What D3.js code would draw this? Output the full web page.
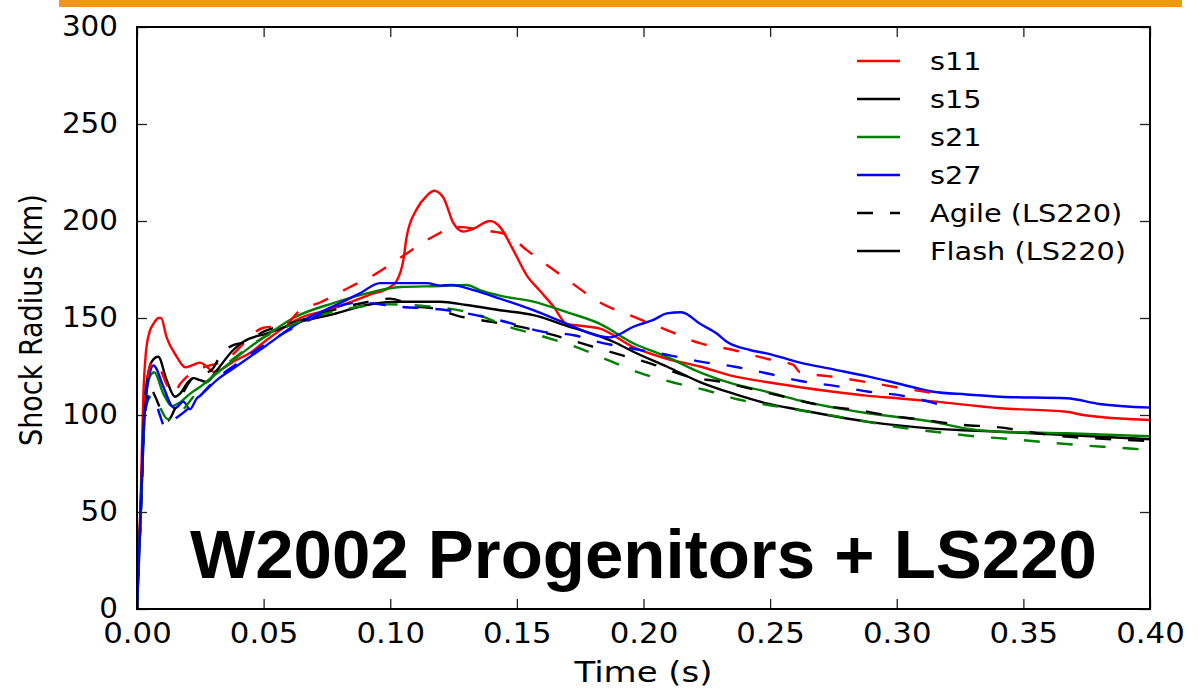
<!DOCTYPE html>
<meta charset="utf-8">
<title>W2002 Progenitors + LS220</title>
<style>
  body { margin: 0; padding: 0; background: #fff; }
  svg text { font-family: 'DejaVu Sans', sans-serif; fill: #000; }
  .title { font-family: 'Liberation Sans', Arial, sans-serif !important; font-weight: bold; }
</style>
<body>
<div id="chart"></div>
<script src="https://cdn.jsdelivr.net/npm/d3@7"></script>
<script>

// time (s), shock radius (km)
var s11Flash = [[0,0],[0.0015,60],[0.0025,110],[0.0035,132],[0.005,143],[0.0065,147],[0.0085,150],[0.0095,150],[0.0117,140],[0.0157,130],[0.019,124.6],[0.0222,125.8],[0.0249,127],[0.0275,125],[0.0301,122.3],[0.034,124],[0.038,127.5],[0.0446,132],[0.0512,138.7],[0.0644,150],[0.075,154],[0.084,158],[0.092,162],[0.0999,166],[0.1025,169],[0.1052,180],[0.1065,192],[0.1104,206],[0.1144,213],[0.1173,215.6],[0.121,212],[0.1249,199],[0.1289,194.5],[0.1328,196],[0.1394,200],[0.1433,197],[0.1486,185],[0.1539,172],[0.1591,164],[0.1644,156],[0.1697,147],[0.175,146],[0.1828,144.5],[0.196,135],[0.2092,129],[0.2223,125],[0.2355,120],[0.2486,117],[0.2618,114.3],[0.275,112],[0.2881,110],[0.3013,108.5],[0.3144,107],[0.3408,103.5],[0.3671,101.7],[0.3736,100],[0.4,97.4]];
var s15Flash = [[0,0],[0.0015,55],[0.003,105],[0.0045,122],[0.0058,127.5],[0.0084,130],[0.0117,118],[0.015,109.4],[0.017,111],[0.0196,116],[0.0222,119],[0.0249,118],[0.0275,117],[0.0315,123],[0.038,133.5],[0.042,137.8],[0.0512,142],[0.0644,148],[0.0775,152],[0.0907,156.7],[0.1039,158.4],[0.1196,158.4],[0.1302,156.7],[0.1433,154],[0.1565,151.5],[0.1697,146],[0.1828,140.5],[0.1894,137],[0.196,132.6],[0.2092,125],[0.2223,117],[0.2355,111],[0.2486,106],[0.2618,102.6],[0.2881,96.6],[0.3144,93],[0.3408,91.4],[0.3671,89.7],[0.4,87.5]];
var s21Flash = [[0,0],[0.0015,50],[0.003,100],[0.0045,118],[0.0068,122],[0.0104,111],[0.0137,104.6],[0.017,106.5],[0.021,111],[0.025,114.6],[0.0315,121.5],[0.0446,135],[0.0512,141],[0.0617,150],[0.0775,157.7],[0.0907,162.7],[0.1039,166],[0.1196,166.5],[0.1302,167],[0.1354,164.4],[0.1433,161.5],[0.1565,158.4],[0.1697,153],[0.1828,147],[0.196,137],[0.2092,130],[0.2223,122],[0.2355,116],[0.2486,112],[0.2618,107.4],[0.288,101],[0.3144,96.5],[0.3276,93],[0.3408,91.4],[0.3671,90.6],[0.4,89]];
var s27Flash = [[0,0],[0.0015,50],[0.003,100],[0.0045,118],[0.0065,125.5],[0.0104,114.6],[0.0137,104.6],[0.015,103.5],[0.0183,106.9],[0.0209,103],[0.0236,108.5],[0.025,110],[0.0315,118],[0.038,124],[0.0512,136],[0.0644,148],[0.0775,156],[0.088,162.7],[0.096,168],[0.1144,168],[0.12,166.7],[0.124,167],[0.1328,164.4],[0.1433,160],[0.1565,154],[0.1697,147],[0.1815,141],[0.1868,140],[0.1894,141],[0.196,145.5],[0.2039,149],[0.2092,152.4],[0.215,153],[0.2223,147],[0.2289,142],[0.2329,137.8],[0.242,133.5],[0.2486,131.8],[0.2618,127],[0.275,123.5],[0.2881,120],[0.3013,116],[0.3144,112],[0.3276,110.6],[0.3408,109.4],[0.3671,108.6],[0.38,105.7],[0.4,103.8]];

var s11Agile = [[0,0],[0.0015,55],[0.003,105],[0.0045,122],[0.0065,128],[0.009,124],[0.012,115],[0.0145,111],[0.017,116],[0.02,120],[0.025,124],[0.03,126],[0.035,128],[0.04,134],[0.045,141],[0.05,145],[0.058,146],[0.0644,154],[0.0723,158],[0.0841,166],[0.0946,173],[0.1039,181],[0.117,192],[0.1262,197],[0.138,195],[0.146,193],[0.1539,185],[0.1697,170],[0.1828,158],[0.196,150.7],[0.2092,143.8],[0.2223,137],[0.2355,133.5],[0.2486,129],[0.2592,125.8],[0.2618,122],[0.275,119.7],[0.288,117],[0.3013,114],[0.317,110.8]];
var s15Agile = [[0,0],[0.0015,50],[0.003,100],[0.005,115],[0.007,110],[0.01,101],[0.012,97],[0.016,106],[0.022,119],[0.026,121],[0.03,124],[0.033,131],[0.038,136],[0.043,137.6],[0.05,143],[0.06,147],[0.07,151],[0.08,155],[0.09,158],[0.1,160],[0.11,156],[0.117,155],[0.127,151],[0.14,148],[0.153,145],[0.165,141],[0.178,136],[0.191,131],[0.204,126],[0.217,120],[0.231,117],[0.244,113],[0.257,109],[0.27,105],[0.284,102.6],[0.298,99.5],[0.311,97.4],[0.325,95],[0.339,93.8],[0.365,89],[0.378,88],[0.4,86.5]];
var s21Agile = [[0,0],[0.0015,50],[0.003,98],[0.0045,108],[0.006,110],[0.009,104],[0.012,98],[0.015,99],[0.019,104],[0.022,109],[0.03,120],[0.04,131],[0.05,140],[0.06,146],[0.08,154],[0.1,157],[0.115,156],[0.1225,155],[0.136,151],[0.1455,146],[0.159,141],[0.1735,135],[0.1865,128],[0.198,122],[0.211,117],[0.224,113],[0.2375,108],[0.257,103.5],[0.2775,99],[0.3045,93],[0.3175,91],[0.331,89],[0.345,87.6],[0.3585,86],[0.372,84.5],[0.3855,83.3],[0.4,82]];
var s27Agile = [[0,0],[0.0015,50],[0.003,100],[0.005,110],[0.007,108],[0.009,100],[0.011,94],[0.013,96],[0.016,99],[0.02,103],[0.025,110],[0.03,117],[0.04,127],[0.05,136],[0.065,147],[0.0875,158],[0.102,156],[0.1225,154],[0.1425,149],[0.16,143],[0.173,141],[0.181,138],[0.1965,134],[0.2095,131],[0.2225,127.5],[0.2355,125],[0.2485,121.5],[0.262,117.5],[0.2755,115],[0.289,112],[0.302,110],[0.318,105]];

var models = ['s11','s15','s21','s27'],
    modelColors = ['#ff0000','#000000','#008000','#0000ff'],
    codes = ['Agile (LS220)','Flash (LS220)'],
    xTicks = [0,0.05,0.1,0.15,0.2,0.25,0.3,0.35,0.4],
    yTicks = [0,50,100,150,200,250,300];

var flashSeries = [s11Flash, s15Flash, s21Flash, s27Flash],
    agileSeries = [s11Agile, s15Agile, s21Agile, s27Agile];

var width = 1198, height = 692,
    margin = {left: 137, right: 48, top: 27, bottom: 83},
    dash = '16,17';

// the source picture is a little wider than tall, so text gets stretched sideways
function stretch(sel, k) {
  sel.each(function() {
    var w = this.getComputedTextLength();
    d3.select(this).attr('textLength', w * k).attr('lengthAdjust', 'spacingAndGlyphs');
  });
}

var svg = d3.select('#chart').append('svg')
    .attr('width', width)
    .attr('height', height);

// orange band on top
svg.append('rect')
  .attr('x', 59).attr('y', 0)
  .attr('width', 1123).attr('height', 7)
  .attr('fill', '#f3941f');

var x = d3.scaleLinear().domain([0, 0.4]).range([margin.left, width - margin.right]),
    y = d3.scaleLinear().domain([0, 300]).range([height - margin.bottom, margin.top]);

svg.append('clipPath').attr('id', 'plotclip')
  .append('rect')
  .attr('x', x(0)).attr('y', y(300))
  .attr('width', x(0.4) - x(0)).attr('height', y(0) - y(300));

var line = d3.line()
    .x(function(d) { return x(d[0]); })
    .y(function(d) { return y(d[1]); })
    .curve(d3.curveMonotoneX);

var plot = svg.append('g').attr('clip-path', 'url(#plotclip)');

// title inside axes
svg.append('text')
  .attr('class', 'title')
  .attr('x', 190).attr('y', 578)
  .attr('textLength', 907)
  .attr('lengthAdjust', 'spacingAndGlyphs')
  .style('font-size', '69px')
  .text('W2002 Progenitors + LS220');

flashSeries.forEach(function(s, i) {
  plot.append('path').datum(s)
    .attr('d', line)
    .attr('fill', 'none')
    .attr('stroke', modelColors[i])
    .attr('stroke-width', 2.4);
});

agileSeries.forEach(function(s, i) {
  plot.append('path').datum(s)
    .attr('d', line)
    .attr('fill', 'none')
    .attr('stroke', modelColors[i])
    .attr('stroke-width', 2.4)
    .attr('stroke-dasharray', dash);
});

// axes, ticks pointing inward on all four sides
var tickLen = 10;
var bottomAxis = d3.axisBottom(x).tickValues(xTicks).tickSizeInner(-tickLen).tickSizeOuter(0).tickPadding(14)
      .tickFormat(d3.format('.2f')),
    topAxis = d3.axisTop(x).tickValues(xTicks).tickSizeInner(-tickLen).tickSizeOuter(0).tickFormat(''),
    leftAxis = d3.axisLeft(y).tickValues(yTicks).tickSizeInner(-tickLen).tickSizeOuter(0).tickPadding(19)
      .tickFormat(d3.format('d')),
    rightAxis = d3.axisRight(y).tickValues(yTicks).tickSizeInner(-tickLen).tickSizeOuter(0).tickFormat('');

var gx = svg.append('g').attr('transform', 'translate(0,' + y(0) + ')').call(bottomAxis);
var gt = svg.append('g').attr('transform', 'translate(0,' + y(300) + ')').call(topAxis);
var gy = svg.append('g').attr('transform', 'translate(' + x(0) + ',0)').call(leftAxis);
var gr = svg.append('g').attr('transform', 'translate(' + x(0.4) + ',0)').call(rightAxis);

[gx, gt, gy, gr].forEach(function(g) {
  g.select('.domain').remove();
  g.selectAll('.tick line').attr('stroke', '#222').attr('stroke-width', 1.3);
  g.selectAll('.tick text')
    .style('font-family', "'DejaVu Sans', sans-serif")
    .style('font-size', '28px')
    .attr('fill', '#000');
});
stretch(gx.selectAll('.tick text'), 1.1);
stretch(gy.selectAll('.tick text'), 1.05);

svg.append('rect')
  .attr('x', x(0)).attr('y', y(300))
  .attr('width', x(0.4) - x(0)).attr('height', y(0) - y(300))
  .attr('fill', 'none')
  .attr('stroke', '#000')
  .attr('stroke-width', 2);

// axis labels
svg.append('text')
  .attr('x', (x(0) + x(0.4)) / 2).attr('y', 682)
  .attr('text-anchor', 'middle')
  .style('font-size', '29px')
  .text('Time (s)')
  .call(stretch, 1.17);

svg.append('text')
  .attr('transform', 'translate(42,' + ((y(0) + y(300)) / 2 + 2) + ') rotate(-90) scale(1,1.15)')
  .attr('text-anchor', 'middle')
  .style('font-size', '27px')
  .text('Shock Radius (km)');

// legend
var legendItems = models.map(function(m, i) { return {label: m, color: modelColors[i], dash: null}; })
  .concat([{label: codes[0], color: '#000', dash: dash}, {label: codes[1], color: '#000', dash: null}]);

var legend = svg.append('g');
legendItems.forEach(function(d, i) {
  var ly = 61 + 38 * i;
  legend.append('line')
    .attr('x1', 857).attr('x2', 900)
    .attr('y1', ly).attr('y2', ly)
    .attr('stroke', d.color)
    .attr('stroke-width', 2.4)
    .attr('stroke-dasharray', d.dash);
  legend.append('text')
    .attr('x', 930).attr('y', ly + 9)
    .style('font-size', '25px')
    .text(d.label)
    .call(stretch, 1.15);
});

</script>
</body>
